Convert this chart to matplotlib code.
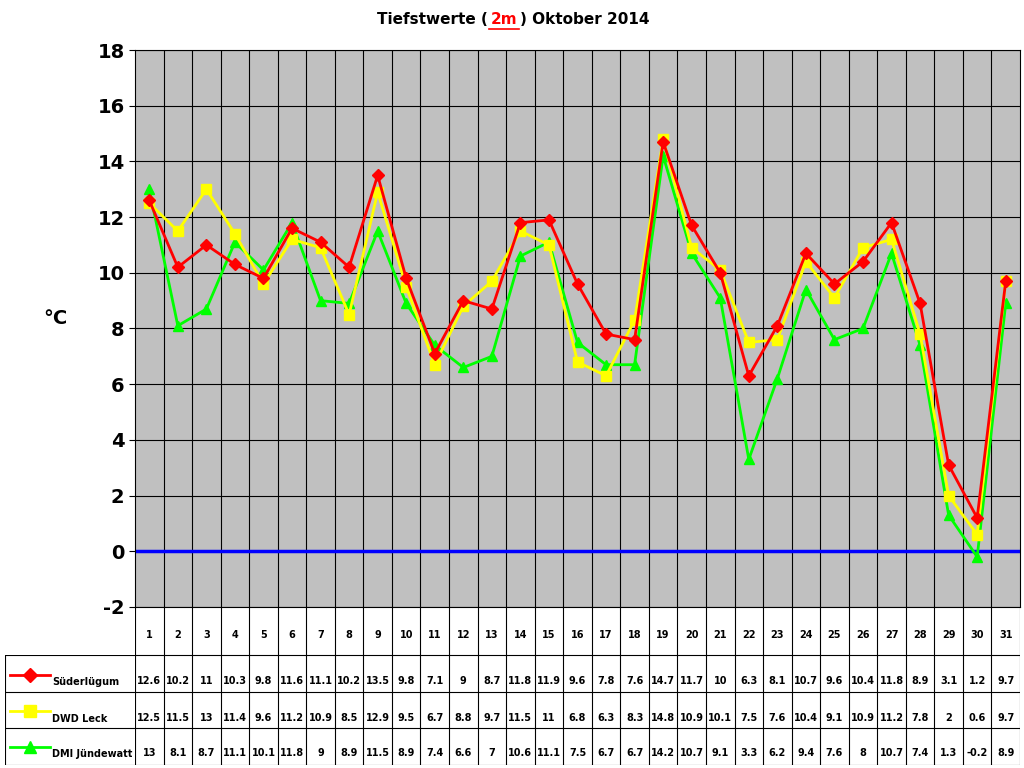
import matplotlib
matplotlib.use("Agg")
import matplotlib.pyplot as plt
import numpy as np

plt.rcParams["axes.unicode_minus"] = False

days = list(range(1, 32))
suederluegum = [12.6,10.2,11,10.3,9.8,11.6,11.1,10.2,13.5,9.8,7.1,9,8.7,11.8,11.9,9.6,7.8,7.6,14.7,11.7,10,6.3,8.1,10.7,9.6,10.4,11.8,8.9,3.1,1.2,9.7]
dwd_leck = [12.5,11.5,13,11.4,9.6,11.2,10.9,8.5,12.9,9.5,6.7,8.8,9.7,11.5,11,6.8,6.3,8.3,14.8,10.9,10.1,7.5,7.6,10.4,9.1,10.9,11.2,7.8,2,0.6,9.7]
dmi = [13,8.1,8.7,11.1,10.1,11.8,9,8.9,11.5,8.9,7.4,6.6,7,10.6,11.1,7.5,6.7,6.7,14.2,10.7,9.1,3.3,6.2,9.4,7.6,8,10.7,7.4,1.3,-0.2,8.9]
names = ["Süderlügum", "DWD Leck", "DMI Jündewatt"]
colors = ["#ff0000", "#ffff00", "#00ff00"]
markers = ["D", "s", "^"]
series = [suederluegum, dwd_leck, dmi]

W, H = 1024, 768
fig = plt.figure(figsize=(W/100, H/100), dpi=100)
ax = fig.add_axes([135/W, 1-607/H, 885/W, 557/H])
ax.set_facecolor("#c0c0c0")
ax.set_xlim(0.5, 31.5)
ax.set_ylim(-2, 18)
ax.set_yticks(range(-2, 19, 2))
ax.tick_params(axis="y", labelsize=14, length=4)
for t in ax.get_yticklabels():
    t.set_fontweight("bold")
ax.set_xticks([])
for y in range(-2, 19, 2):
    ax.axhline(y, color="black", lw=0.8, zorder=1)
for x in np.arange(1.5, 31.5, 1):
    ax.axvline(x, color="black", lw=0.8, zorder=1)
ax.axhline(0, color="#0000ff", lw=2.5, zorder=2)
for i in [2, 1, 0]:
    ax.plot(days, series[i], color=colors[i], marker=markers[i], lw=2,
            markersize=7 if i != 0 else 6, zorder=3 + (2 - i))
for s in ax.spines.values():
    s.set_color("black")
ax.set_ylabel("°C", rotation=0, fontsize=14, fontweight="bold", labelpad=30)

# title
ty = 1 - 20/H
fig.text(488/W, ty, "Tiefstwerte (", ha="right", va="center", fontsize=11, fontweight="bold")
fig.text(504/W, ty, "2m", ha="center", va="center", fontsize=11, fontweight="bold", color="red")
fig.text(520/W, ty, ") Oktober 2014", ha="left", va="center", fontsize=11, fontweight="bold")
fig.add_artist(plt.Line2D([489/W, 519/W], [1-29/H, 1-29/H], color="red", lw=1.2))

# table
tax = fig.add_axes([135/W, 1-765/H, 885/W, 158/H])
tax.set_xlim(0.5, 31.5)
tax.set_ylim(0, 158)
tax.axis("off")
for x in np.arange(0.5, 32, 1):
    tax.plot([x, x], [0, 158], color="black", lw=0.8)
for y in [0, 37, 73, 110]:
    tax.plot([0.5, 31.5], [y, y], color="black", lw=0.8)
for d in days:
    tax.text(d, 130, str(d), ha="center", va="center", fontsize=7, fontweight="bold")
for r, s in enumerate(series):
    ybase = [84, 47, 12][r]
    for d, v in zip(days, s):
        tax.text(d, ybase, f"{v:g}", ha="center", va="center", fontsize=7, fontweight="bold")

lax = fig.add_axes([5/W, 1-765/H, 130/W, 110/H])
lax.set_xlim(0, 130)
lax.set_ylim(0, 110)
lax.axis("off")
for y in [0, 37, 73, 110]:
    lax.plot([0, 130], [y, y], color="black", lw=0.8)
lax.plot([0, 0], [0, 110], color="black", lw=0.8)
for r in range(3):
    yc = [86, 50, 14][r]
    ybase = [84, 47, 12][r]
    lax.plot([5, 45], [yc+4, yc+4], color=colors[r], lw=2)
    lax.plot([25], [yc+4], marker=markers[r], color=colors[r], markersize=8 if r else 7)
    lax.text(47, ybase-1, names[r], va="center", ha="left", fontsize=7, fontweight="bold")

fig.savefig("out.png", dpi=100)
